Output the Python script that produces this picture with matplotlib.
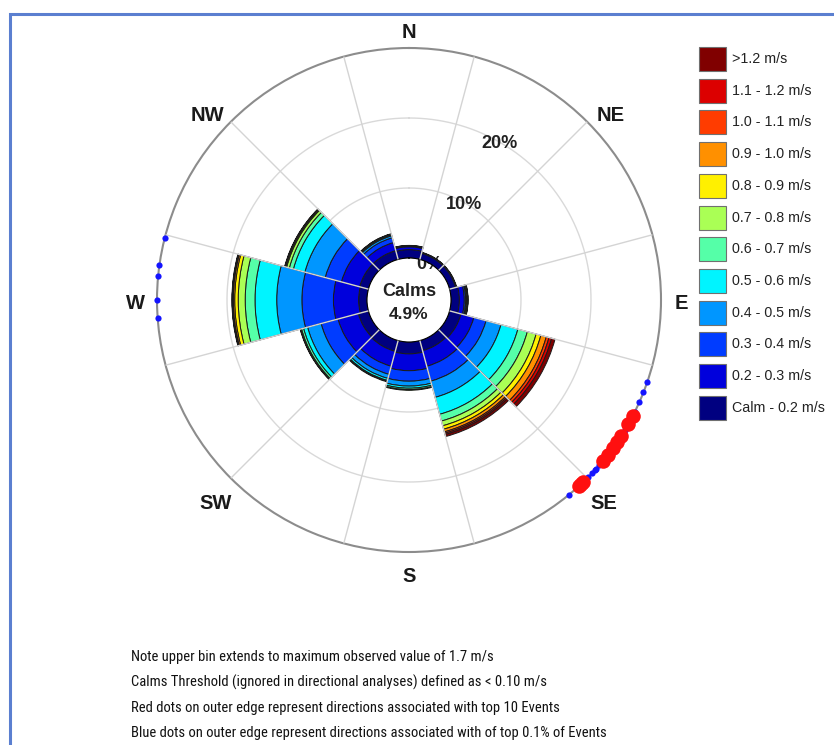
import numpy as np
import matplotlib
matplotlib.use("Agg")
import matplotlib.pyplot as plt
from matplotlib.patches import Rectangle
from matplotlib import font_manager
from matplotlib.font_manager import FontProperties

# ---------------- data ----------------
directions = [0, 30, 60, 90, 120, 150, 180, 210, 240, 270, 300, 330]   # deg, sector centres
speed_labels = ['Calm - 0.2 m/s', '0.2 - 0.3 m/s', '0.3 - 0.4 m/s', '0.4 - 0.5 m/s',
                '0.5 - 0.6 m/s', '0.6 - 0.7 m/s', '0.7 - 0.8 m/s', '0.8 - 0.9 m/s',
                '0.9 - 1.0 m/s', '1.0 - 1.1 m/s', '1.1 - 1.2 m/s', '>1.2 m/s']
# percent frequency per direction for each speed bin
f_calm_02 = [1.2, 0.9, 0.9, 1.2, 1.7, 1.5, 1.7, 1.6, 1.5, 1.2, 1.3, 1.3]
f_02_03 = [0.4, 0.1, 0.1, 0.7, 1.9, 2.3, 2.4, 2.2, 3.0, 3.6, 2.7, 1.2]
f_03_04 = [0.1, 0.05, 0.05, 0.2, 1.8, 2.2, 1.5, 1.2, 2.5, 4.5, 2.4, 0.7]
f_04_05 = [0.05, 0, 0, 0.1, 2.2, 2.4, 0.7, 0.6, 2.0, 3.6, 3.0, 0.3]
f_05_06 = [0.03, 0, 0, 0.1, 2.5, 2.5, 0.3, 0.3, 0.6, 3.1, 1.7, 0.15]
f_06_07 = [0.02, 0, 0, 0.1, 1.4, 1.0, 0.2, 0.1, 0.3, 1.4, 0.6, 0.1]
f_07_08 = [0, 0, 0, 0.05, 1.3, 0.7, 0.1, 0.1, 0.15, 1.0, 0.4, 0.05]
f_08_09 = [0, 0, 0, 0, 0.7, 0.5, 0, 0, 0.05, 0.5, 0.15, 0]
f_09_10 = [0, 0, 0, 0, 0.8, 0.4, 0, 0, 0, 0.2, 0.1, 0]
f_10_11 = [0, 0, 0, 0, 0.4, 0.2, 0, 0, 0, 0.1, 0.05, 0]
f_11_12 = [0, 0, 0, 0, 0.4, 0.2, 0, 0, 0, 0.05, 0, 0]
f_gt_12 = [0, 0, 0, 0, 0.5, 0.3, 0, 0, 0, 0.05, 0, 0]
calms_pct = 4.9
radial_ticks = [0, 10, 20]
compass_labels = ['N', 'NE', 'E', 'SE', 'S', 'SW', 'W', 'NW']
blue_dot_dirs = [266, 270, 275.4, 278, 284.3,
                 109.0, 111.5, 114.0, 116.5, 119.0, 121.1, 124.0, 126.5,
                 129.0, 130.9, 132.0, 132.5, 133.5, 134.6, 135.5, 140.7]
red_dot_dirs = [117.5, 119.6, 122.7, 124.3, 125.9, 127.9, 129.7, 136.3, 137.0, 137.6]
notes = ["Note upper bin extends to maximum observed value of 1.7 m/s",
         "Calms Threshold (ignored in directional analyses) defined as < 0.10 m/s",
         "Red dots on outer edge represent directions associated with top 10 Events",
         "Blue dots on outer edge represent directions associated with of top 0.1% of Events"]

bins = [f_calm_02, f_02_03, f_03_04, f_04_05, f_05_06, f_06_07, f_07_08,
        f_08_09, f_09_10, f_10_11, f_11_12, f_gt_12]
colors = ['#000080', '#0000dc', '#003cff', '#0096ff', '#00f4ff', '#55ffa8',
          '#aaff55', '#fff000', '#ff9000', '#ff3c00', '#dc0000', '#800000']

# label placement (pixel radius from centre, visual angle) -- layout only
label_pos = {'N': (270, 0), 'NE': (275, 47.2), 'E': (272, 90.4), 'SE': (280, 135.9),
             'S': (275, 180), 'SW': (279, 223.8), 'W': (274, 269.6), 'NW': (275, 312.8)}

# ---------------- fonts ----------------
avail = {f.name for f in font_manager.fontManager.ttflist}
base = 'Liberation Sans' if 'Liberation Sans' in avail else 'DejaVu Sans'
plt.rcParams['font.family'] = [base, 'DejaVu Sans']

W, H = 834, 745
fig = plt.figure(figsize=(W / 100, H / 100), dpi=100)
fig.patch.set_facecolor('white')
renderer = fig.canvas.get_renderer()

# pick a plain sans font for the notes whose width best fits ~359 px at ~11 pt
sans_bases = ('Liberation Sans', 'Noto Sans', 'Roboto', 'Open Sans', 'Lato', 'Inter', 'DejaVu Sans')
target_w10 = 359.0 * 10 / 11.0
best = None
seen = set()
for f in font_manager.fontManager.ttflist:
    nm = f.name
    if f.fname in seen or f.style != 'normal':
        continue
    if f.weight not in (400, 'normal', 'regular', 'Regular', 'book', 'Book'):
        continue
    ok = nm in sans_bases or any(nm.startswith(b) and ('Cond' in nm or 'Narrow' in nm)
                                 for b in sans_bases)
    if not ok or 'Mono' in nm or 'CJK' in nm:
        continue
    seen.add(f.fname)
    fp = FontProperties(fname=f.fname)
    try:
        t = fig.text(0, 0, notes[0], fontproperties=fp, fontsize=10)
        w10 = t.get_window_extent(renderer=renderer).width
        t.remove()
    except Exception:
        continue
    err = abs(w10 - target_w10)
    if best is None or err < best[0]:
        best = (err, f.fname, w10)
note_fp = FontProperties(fname=best[1]) if best else FontProperties(family=base)
note_size = 10 * 359.0 / best[2] if best else 9.4

# frame
fig.add_artist(Rectangle((10 / W, -0.1), 1.2, 1.1 - 14 / H, transform=fig.transFigure,
                         fill=False, edgecolor='#5b7fd0', linewidth=2.2))

cx, cy, R = 409, 300, 252
ax = fig.add_axes([(cx - R) / W, (H - cy - R) / H, 2 * R / W, 2 * R / H], projection='polar')
ax.set_theta_zero_location('N')
ax.set_theta_direction(-1)
ax.set_ylim(0, 30)
ax.set_rorigin(-6)
ax.set_xticks([])
ax.set_yticks([])
ax.grid(False)
ax.spines['polar'].set_color('#8c8c8c')
ax.spines['polar'].set_linewidth(1.5)
for k in ('inner', 'start', 'end'):
    if k in ax.spines:
        ax.spines[k].set_visible(False)

theta = np.radians(directions)
width = np.radians(30)

# grid circles (below bars)
tt = np.linspace(0, 2 * np.pi, 400)
for rv in radial_ticks[1:]:
    ax.plot(tt, np.full_like(tt, rv), color='#d9d9d9', lw=1.0, zorder=0.5)

bottom = np.zeros(len(directions))
for vals, col in zip(bins, colors):
    v = np.array(vals, dtype=float)
    lw = np.where(v > 0, 0.7, 0.0)
    ax.bar(theta, v, width=width, bottom=bottom, color=col, edgecolor='#1a1a1a',
           linewidth=lw, zorder=2, align='center')
    bottom = bottom + v

# radial grid lines on top
for a in np.radians(np.arange(15, 360, 30)):
    ax.plot([a, a], [0, 30], color='#d4d4d4', lw=1.0, zorder=3)

# radial labels (0% sits underneath the bars)
for rv in radial_ticks:
    ax.text(np.radians(30), rv - 0.2 if rv else -0.2, f'{rv}%', ha='center', va='center',
            fontsize=13, fontweight='bold', color='#222222', zorder=1 if rv == 0 else 4)

# compass labels
for lab in compass_labels:
    rp, ang = label_pos[lab]
    x = cx + rp * np.sin(np.radians(ang))
    y = cy - rp * np.cos(np.radians(ang))
    fig.text(x / W, 1 - y / H, lab, ha='center', va='center_baseline', fontsize=14.5,
             fontweight='bold', color='#1a1a1a')

# calms
fig.text(cx / W, 1 - 290 / H, 'Calms', ha='center', va='center_baseline', fontsize=13,
         fontweight='bold', color='#222222', zorder=5)
fig.text(cx / W, 1 - 313 / H, f'{calms_pct}%', ha='center', va='center_baseline', fontsize=12.5,
         fontweight='bold', color='#222222', zorder=5)

# dots on outer edge
ax.scatter(np.radians(blue_dot_dirs), np.full(len(blue_dot_dirs), 30), s=20,
           color='#1414ff', zorder=6, clip_on=False, linewidths=0)
ax.scatter(np.radians(red_dot_dirs), np.full(len(red_dot_dirs), 30), s=110,
           color='#ff1010', zorder=7, clip_on=False, linewidths=0)

# legend (top = highest speed)
leg_x, leg_y0, dy = 699, 59, 31.7
sq_w, sq_h = 27, 24
for i, (lab, col) in enumerate(zip(speed_labels[::-1], colors[::-1])):
    yc = leg_y0 + i * dy
    fig.add_artist(Rectangle((leg_x / W, 1 - (yc + sq_h / 2) / H), sq_w / W, sq_h / H,
                             transform=fig.transFigure, facecolor=col,
                             edgecolor='#707070', linewidth=0.8))
    fig.text((leg_x + sq_w + 6) / W, 1 - yc / H, lab, ha='left', va='center',
             fontsize=10.3, color='#222222')

# notes
for i, line in enumerate(notes):
    fig.text(131 / W, 1 - (657 + i * 25.4) / H, line, ha='left', va='center',
             fontproperties=note_fp, fontsize=note_size, color='#111111')

fig.savefig('out.png', dpi=100, facecolor='white')
